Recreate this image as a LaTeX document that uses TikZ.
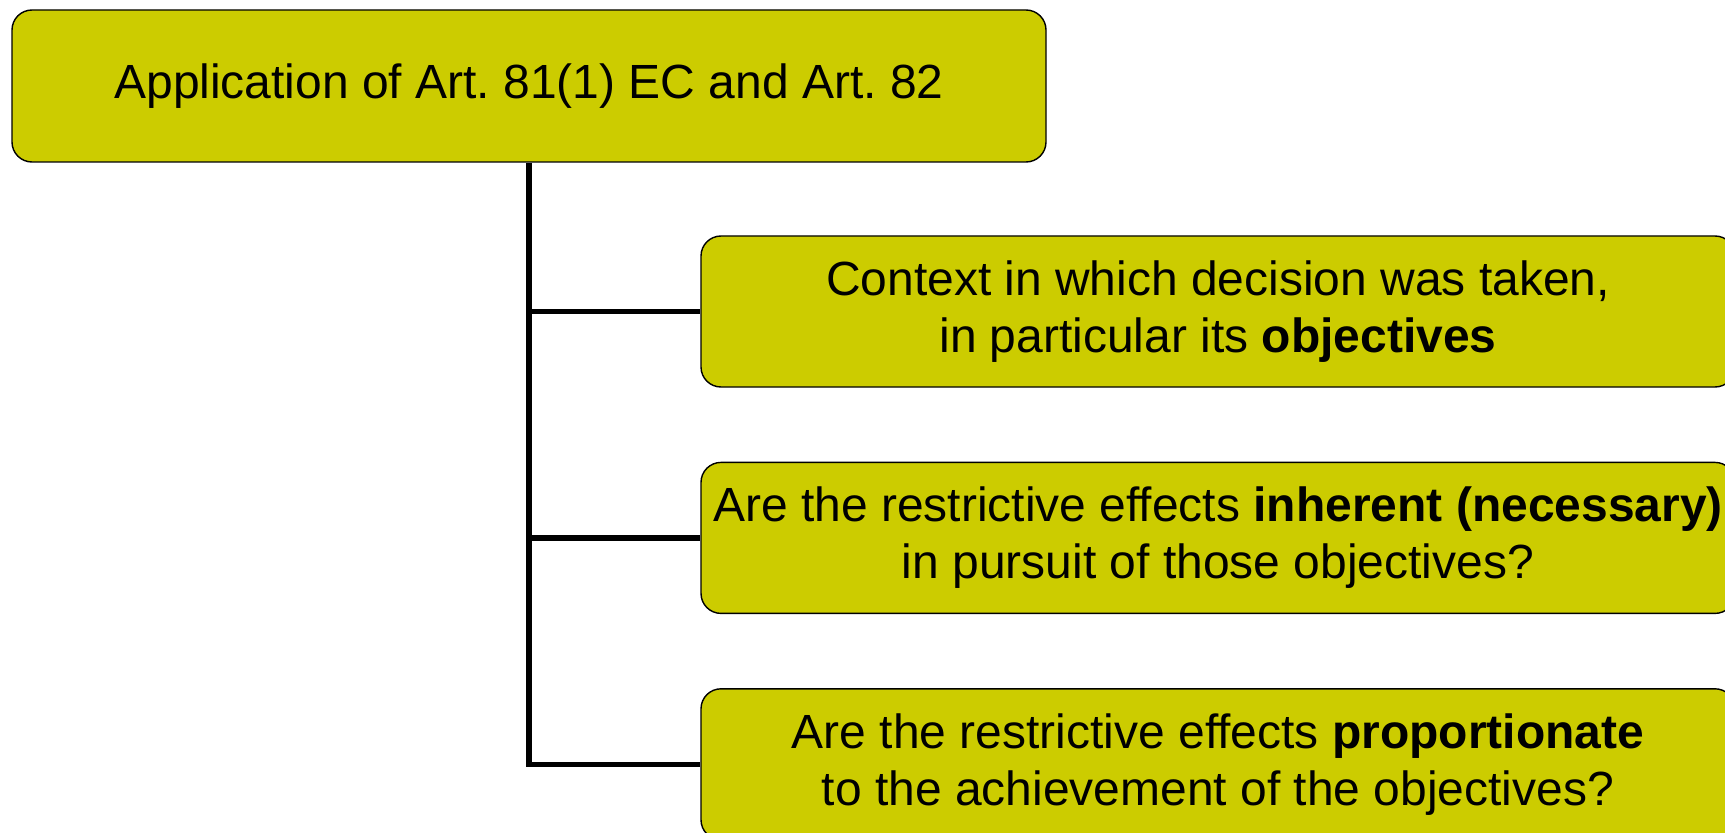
\documentclass[tikz,border=0pt]{standalone}
\usepackage{fontspec}
\setmainfont{Liberation Sans}
\usetikzlibrary{positioning}
\definecolor{boxfill}{HTML}{CCCC00}

\begin{document}
\begin{tikzpicture}[
        stage/.style={
            draw,
            fill=boxfill,
            line width=0.8pt,
            rounded corners=0.4cm,
            minimum width=20.68cm,
            minimum height=3.02cm,
            inner xsep=0.15cm,
            align=center,
            font=\fontsize{27.3}{32.5}\selectfont
        },
        branch/.style={
            line width=3pt
        },
        node distance=1.48cm
    ]

    \useasboundingbox (0,0) rectangle (34.5,-16.66);

    \node[stage, minimum height=3.04cm] (apply) at (10.58,-1.72) {Application of Art.~81(1) EC and Art.~82};
    \node[stage] (context) at (24.36,-6.23) {Context in which decision was taken,\\in particular its \textbf{objectives}};
    \node[stage, below=of context] (inherent) {Are the restrictive effects \textbf{inherent (necessary)}\\in pursuit of those objectives?};
    \node[stage, below=of inherent] (proportion) {Are the restrictive effects \textbf{proportionate}\\to the achievement of the objectives?};

    % Each test hangs off the one trunk below the main question
    \draw[branch] (apply.south) |- (proportion.west);
    \draw[branch] (apply.south |- context.west) -- (context.west);
    \draw[branch] (apply.south |- inherent.west) -- (inherent.west);

\end{tikzpicture}
\end{document}
